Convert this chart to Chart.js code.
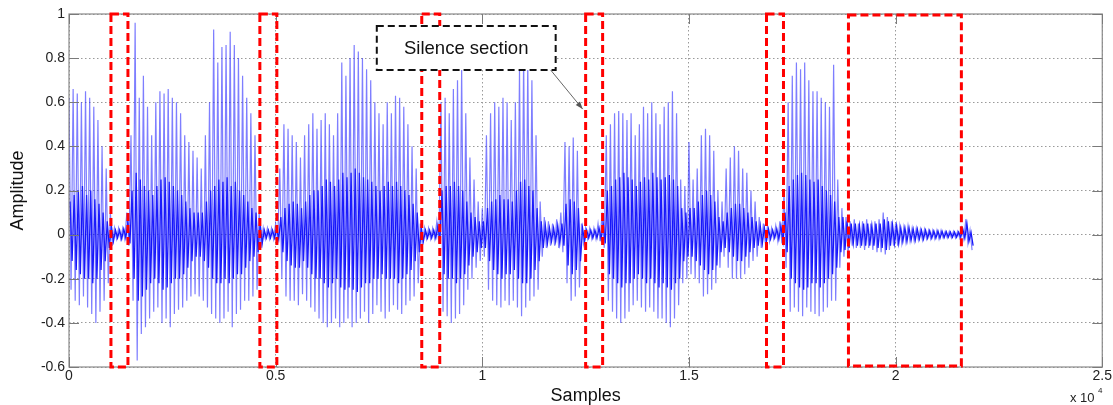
<!DOCTYPE html>
<html><head><meta charset="utf-8">
<script src="https://cdn.jsdelivr.net/npm/chart.js@4.4.1/dist/chart.umd.min.js"></script>
<style>html,body{margin:0;padding:0;background:#fff;overflow:hidden}#wrap{width:1113px;height:405px}</style>
</head><body><div id="wrap"><canvas id="c" width="1113" height="405"></canvas></div>
<script>
// ---------- data ----------
const sampleStep = 100; // one envelope value per 100 samples

// outer (peak) envelope of the waveform
const peakHigh = [
 0.62,0.66,0.64,0.60,0.65,0.62,0.58,0.52,0.40,0.30,
 0.10,0.03,0.03,0.03,0.10,
 0.45,0.96,0.62,0.72,0.58,0.45,0.60,0.65,0.64,0.66,0.62,0.60,0.55,0.45,0.42,0.38,0.35,0.30,0.45,0.60,0.93,0.78,0.85,0.86,0.92,0.86,0.80,0.72,0.62,0.55,0.45,
 0.10,0.03,0.03,0.03,0.05,
 0.30,0.50,0.48,0.45,0.42,0.35,0.45,0.50,0.55,0.48,0.52,0.55,0.50,0.45,0.55,0.78,0.72,0.80,0.86,0.83,0.80,0.75,0.70,0.60,0.55,0.50,0.60,0.55,0.63,0.62,0.58,0.50,0.40,0.30,
 0.05,0.03,0.03,0.03,0.06,
 0.60,0.62,0.55,0.66,0.70,0.75,0.55,0.35,0.25,0.15,0.12,0.45,0.55,0.60,0.58,0.62,0.60,0.52,0.60,0.75,0.80,0.78,0.70,0.45,0.15,0.08,0.06,0.05,0.07,0.10,0.42,0.40,0.44,0.38,
 0.05,0.03,0.03,0.03,0.05,
 0.10,0.45,0.50,0.55,0.56,0.55,0.52,0.55,0.45,0.50,0.58,0.55,0.60,0.55,0.50,0.58,0.60,0.65,0.55,0.25,0.22,0.42,0.25,0.30,0.45,0.48,0.45,0.38,0.20,0.15,0.30,0.35,0.40,0.38,0.30,0.28,0.20,0.15,0.08,
 0.05,0.04,0.03,0.04,0.06,
 0.20,0.60,0.72,0.78,0.75,0.78,0.70,0.65,0.65,0.62,0.60,0.58,0.77,0.25,
 0.12,0.08,0.06,0.07,0.05,0.06,0.07,0.05,0.06,0.07,0.10,0.08,0.06,0.05,0.04,0.035,0.04,0.03,0.03,0.025,0.025,0.02,0.02,0.02,0.02,0.015,0.015,0.015,0.015,0.03,0.07,0.02
];
const peakLow = [
 -0.25,-0.30,-0.32,-0.28,-0.33,-0.36,-0.40,-0.35,-0.30,-0.22,
 -0.05,-0.02,-0.02,-0.02,-0.05,
 -0.30,-0.57,-0.45,-0.42,-0.38,-0.35,-0.33,-0.40,-0.38,-0.42,-0.36,-0.34,-0.33,-0.30,-0.28,-0.27,-0.28,-0.30,-0.33,-0.36,-0.38,-0.40,-0.38,-0.35,-0.42,-0.36,-0.34,-0.30,-0.30,-0.28,-0.25,
 -0.06,-0.02,-0.02,-0.02,-0.03,
 -0.20,-0.28,-0.30,-0.30,-0.32,-0.27,-0.30,-0.33,-0.35,-0.38,-0.40,-0.42,-0.40,-0.38,-0.42,-0.40,-0.38,-0.42,-0.40,-0.38,-0.35,-0.40,-0.36,-0.32,-0.35,-0.38,-0.35,-0.32,-0.34,-0.36,-0.32,-0.30,-0.28,-0.22,
 -0.05,-0.02,-0.02,-0.02,-0.04,
 -0.35,-0.37,-0.40,-0.38,-0.36,-0.32,-0.25,-0.20,-0.15,-0.12,-0.10,-0.25,-0.30,-0.32,-0.33,-0.30,-0.32,-0.30,-0.33,-0.37,-0.33,-0.30,-0.28,-0.25,-0.10,-0.06,-0.05,-0.05,-0.06,-0.08,-0.22,-0.30,-0.28,-0.24,
 -0.04,-0.02,-0.02,-0.02,-0.03,
 -0.06,-0.30,-0.35,-0.38,-0.40,-0.38,-0.35,-0.32,-0.30,-0.33,-0.35,-0.33,-0.35,-0.38,-0.38,-0.40,-0.42,-0.38,-0.32,-0.22,-0.20,-0.18,-0.20,-0.22,-0.28,-0.27,-0.25,-0.22,-0.15,-0.10,-0.15,-0.20,-0.20,-0.20,-0.18,-0.15,-0.12,-0.10,-0.06,
 -0.04,-0.03,-0.02,-0.03,-0.04,
 -0.15,-0.35,-0.33,-0.35,-0.37,-0.33,-0.35,-0.36,-0.37,-0.35,-0.33,-0.30,-0.30,-0.15,
 -0.10,-0.08,-0.05,-0.06,-0.06,-0.07,-0.06,-0.07,-0.08,-0.08,-0.09,-0.07,-0.05,-0.05,-0.04,-0.035,-0.03,-0.03,-0.025,-0.025,-0.02,-0.02,-0.02,-0.02,-0.015,-0.015,-0.015,-0.015,-0.015,-0.02,-0.04,-0.07
];
// dense dark core of the waveform
const coreHigh = [
 0.15,0.18,0.20,0.22,0.18,0.20,0.16,0.14,0.10,0.06,
 0.04,0.02,0.02,0.025,0.06,
 0.20,0.28,0.25,0.22,0.20,0.18,0.22,0.25,0.26,0.24,0.22,0.20,0.18,0.15,0.12,0.10,0.10,0.10,0.15,0.20,0.22,0.25,0.24,0.26,0.22,0.24,0.20,0.18,0.15,0.12,0.10,
 0.05,0.02,0.02,0.02,0.03,
 0.08,0.12,0.14,0.15,0.14,0.12,0.15,0.18,0.20,0.20,0.22,0.25,0.24,0.22,0.25,0.28,0.26,0.28,0.30,0.28,0.26,0.25,0.24,0.22,0.20,0.22,0.24,0.22,0.24,0.22,0.20,0.18,0.14,0.10,
 0.03,0.02,0.02,0.02,0.04,
 0.20,0.22,0.22,0.24,0.22,0.20,0.15,0.10,0.08,0.06,0.06,0.12,0.15,0.16,0.18,0.16,0.16,0.15,0.20,0.24,0.25,0.22,0.20,0.12,0.06,0.04,0.03,0.03,0.04,0.05,0.14,0.16,0.15,0.12,
 0.03,0.02,0.02,0.02,0.03,
 0.05,0.20,0.22,0.25,0.26,0.28,0.26,0.25,0.22,0.24,0.26,0.25,0.28,0.26,0.25,0.26,0.27,0.25,0.22,0.12,0.10,0.12,0.12,0.15,0.18,0.20,0.18,0.15,0.08,0.06,0.10,0.12,0.14,0.14,0.12,0.10,0.08,0.06,0.04,
 0.03,0.025,0.02,0.025,0.04,
 0.10,0.22,0.25,0.27,0.28,0.27,0.25,0.24,0.25,0.22,0.20,0.18,0.15,0.08,
 0.08,0.06,0.05,0.05,0.04,0.05,0.05,0.04,0.05,0.05,0.07,0.06,0.045,0.04,0.03,0.03,0.03,0.025,0.025,0.02,0.02,0.018,0.016,0.016,0.015,0.013,0.012,0.012,0.012,0.025,0.05,0.01
];
const coreLow = [
 -0.12,-0.16,-0.18,-0.20,-0.20,-0.22,-0.20,-0.16,-0.12,-0.06,
 -0.03,-0.015,-0.02,-0.015,-0.04,
 -0.20,-0.30,-0.28,-0.25,-0.22,-0.20,-0.22,-0.25,-0.24,-0.22,-0.20,-0.20,-0.18,-0.15,-0.12,-0.10,-0.10,-0.12,-0.15,-0.20,-0.22,-0.22,-0.20,-0.22,-0.20,-0.18,-0.18,-0.15,-0.12,-0.10,-0.08,
 -0.04,-0.015,-0.015,-0.015,-0.02,
 -0.08,-0.12,-0.14,-0.15,-0.15,-0.12,-0.15,-0.18,-0.20,-0.20,-0.22,-0.24,-0.22,-0.20,-0.24,-0.25,-0.24,-0.25,-0.26,-0.24,-0.22,-0.22,-0.20,-0.20,-0.18,-0.20,-0.20,-0.20,-0.22,-0.20,-0.18,-0.16,-0.12,-0.08,
 -0.03,-0.015,-0.015,-0.015,-0.03,
 -0.18,-0.20,-0.20,-0.22,-0.20,-0.18,-0.14,-0.10,-0.08,-0.06,-0.06,-0.12,-0.16,-0.18,-0.20,-0.18,-0.18,-0.16,-0.20,-0.22,-0.22,-0.20,-0.16,-0.12,-0.06,-0.04,-0.03,-0.03,-0.04,-0.05,-0.14,-0.18,-0.16,-0.12,
 -0.03,-0.015,-0.015,-0.015,-0.02,
 -0.04,-0.18,-0.20,-0.22,-0.24,-0.22,-0.22,-0.20,-0.18,-0.20,-0.22,-0.20,-0.22,-0.24,-0.22,-0.24,-0.25,-0.22,-0.20,-0.12,-0.10,-0.10,-0.12,-0.14,-0.16,-0.18,-0.16,-0.14,-0.08,-0.06,-0.08,-0.10,-0.12,-0.12,-0.10,-0.08,-0.06,-0.05,-0.04,
 -0.03,-0.02,-0.015,-0.02,-0.03,
 -0.08,-0.20,-0.22,-0.24,-0.25,-0.24,-0.22,-0.22,-0.24,-0.22,-0.20,-0.18,-0.15,-0.08,
 -0.07,-0.06,-0.04,-0.05,-0.05,-0.05,-0.05,-0.05,-0.06,-0.06,-0.07,-0.05,-0.04,-0.04,-0.03,-0.03,-0.025,-0.025,-0.02,-0.02,-0.016,-0.016,-0.015,-0.015,-0.013,-0.012,-0.012,-0.012,-0.012,-0.015,-0.03,-0.05
];

// silence sections (sample index ranges, amplitude ranges)
const silenceStart = [1015, 4618, 8535, 12500, 16876, 18859];
const silenceEnd   = [1426, 5029, 8970, 12911, 17287, 21591];
const silenceTop    = [1, 1, 1, 1, 1, 0.995];
const silenceBottom = [-0.6, -0.6, -0.6, -0.6, -0.6, -0.595];

// axis ticks
const xTickValues = [0, 5000, 10000, 15000, 20000, 25000];
const xTickLabels = ['0', '0.5', '1', '1.5', '2', '2.5'];
const yTickValues = [1, 0.8, 0.6, 0.4, 0.2, 0, -0.2, -0.4, -0.6];
const yTickLabels = ['1', '0.8', '0.6', '0.4', '0.2', '0', '-0.2', '-0.4', '-0.6'];

// annotation
const noteText = 'Silence section';
const noteBox = {x0: 7447, x1: 11775, y0: 0.9456, y1: 0.746};
const noteArrow = {x0: 11654, y0: 0.746, x1: 12428, y1: 0.569};
const xAxisTitle = 'Samples';
const yAxisTitle = 'Amplitude';
const xExponent = ['x 10', '4'];

// ---------- build datasets ----------
const outerPts = [], corePts = [];
for (let i = 0; i < peakHigh.length; i++) {
  const s = i * sampleStep;
  outerPts.push({x: s, y: peakHigh[i]}, {x: s + sampleStep / 2, y: peakLow[i]});
  corePts.push({x: s + sampleStep / 4, y: coreHigh[i]}, {x: s + 3 * sampleStep / 4, y: coreLow[i]});
}

const FONT = '"Liberation Sans", Arial, Helvetica, sans-serif';

const deco = {
  id: 'deco',
  afterDatasetsDraw(chart) {
    const {ctx, chartArea: a, scales: {x, y}} = chart;
    ctx.save();
    // frame
    ctx.setLineDash([]);
    ctx.strokeStyle = '#8a8a8a';
    ctx.lineWidth = 1.2;
    ctx.strokeRect(a.left, a.top, a.right - a.left, a.bottom - a.top);
    // inward ticks
    ctx.strokeStyle = '#7a7a7a';
    ctx.lineWidth = 1;
    const tl = 10;
    ctx.beginPath();
    xTickValues.forEach(v => {
      const px = Math.round(x.getPixelForValue(v)) + 0.5;
      ctx.moveTo(px, a.bottom); ctx.lineTo(px, a.bottom - tl);
      ctx.moveTo(px, a.top); ctx.lineTo(px, a.top + tl);
    });
    yTickValues.forEach(v => {
      const py = Math.round(y.getPixelForValue(v)) + 0.5;
      ctx.moveTo(a.left, py); ctx.lineTo(a.left + tl, py);
      ctx.moveTo(a.right, py); ctx.lineTo(a.right - tl, py);
    });
    ctx.stroke();
    // silence rectangles
    ctx.strokeStyle = '#ff0000';
    ctx.lineWidth = 3;
    ctx.setLineDash([8, 4]);
    for (let k = 0; k < silenceStart.length; k++) {
      const x0 = x.getPixelForValue(silenceStart[k]);
      const x1 = x.getPixelForValue(silenceEnd[k]);
      const y0 = y.getPixelForValue(silenceTop[k]);
      const y1 = y.getPixelForValue(silenceBottom[k]);
      ctx.strokeRect(x0, y0, x1 - x0, y1 - y0);
    }
    // arrow
    const ax0 = x.getPixelForValue(noteArrow.x0), ay0 = y.getPixelForValue(noteArrow.y0);
    const ax1 = x.getPixelForValue(noteArrow.x1), ay1 = y.getPixelForValue(noteArrow.y1);
    ctx.setLineDash([]);
    ctx.strokeStyle = '#555';
    ctx.fillStyle = '#555';
    ctx.lineWidth = 0.9;
    ctx.beginPath(); ctx.moveTo(ax0, ay0); ctx.lineTo(ax1, ay1); ctx.stroke();
    const ang = Math.atan2(ay1 - ay0, ax1 - ax0);
    const hl = 8, hw = 0.35;
    ctx.beginPath();
    ctx.moveTo(ax1, ay1);
    ctx.lineTo(ax1 - hl * Math.cos(ang - hw), ay1 - hl * Math.sin(ang - hw));
    ctx.lineTo(ax1 - hl * Math.cos(ang + hw), ay1 - hl * Math.sin(ang + hw));
    ctx.closePath(); ctx.fill();
    // annotation box
    const bx0 = x.getPixelForValue(noteBox.x0), bx1 = x.getPixelForValue(noteBox.x1);
    const by0 = y.getPixelForValue(noteBox.y0), by1 = y.getPixelForValue(noteBox.y1);
    ctx.fillStyle = '#fff';
    ctx.fillRect(bx0, by0, bx1 - bx0, by1 - by0);
    ctx.strokeStyle = '#111';
    ctx.lineWidth = 2;
    ctx.setLineDash([7, 4]);
    ctx.strokeRect(bx0, by0, bx1 - bx0, by1 - by0);
    ctx.fillStyle = '#111';
    ctx.font = '18.5px ' + FONT;
    ctx.textAlign = 'center';
    ctx.textBaseline = 'middle';
    ctx.fillText(noteText, (bx0 + bx1) / 2, (by0 + by1) / 2 + 1);
    // exponent label
    ctx.textAlign = 'left';
    ctx.textBaseline = 'alphabetic';
    ctx.font = '13px ' + FONT;
    ctx.fillStyle = '#222';
    ctx.fillText(xExponent[0], 1070, 402);
    ctx.font = '8px ' + FONT;
    ctx.fillText(xExponent[1], 1098, 393);
    ctx.restore();
  }
};

new Chart(document.getElementById('c'), {
  type: 'scatter',
  data: {
    datasets: [
      {label: 'waveform', data: outerPts, showLine: true, borderColor: 'rgba(40,40,255,0.6)', borderWidth: 1.2, pointRadius: 0, tension: 0},
      {label: 'waveform core', data: corePts, showLine: true, borderColor: 'rgba(0,0,250,0.92)', borderWidth: 1.3, pointRadius: 0, tension: 0}
    ]
  },
  options: {
    responsive: false,
    animation: false,
    devicePixelRatio: 1,
    layout: {padding: {left: 0, right: 10, top: 14, bottom: 0}},
    plugins: {legend: {display: false}, tooltip: {enabled: false}},
    scales: {
      x: {
        type: 'linear', min: 0, max: 25000,
        afterBuildTicks: s => { s.ticks = xTickValues.map(v => ({value: v})); },
        afterFit: s => { s.height = 38; },
        ticks: {
          padding: 1, color: '#222', font: {family: FONT, size: 14}, maxRotation: 0,
          callback: v => xTickLabels[xTickValues.indexOf(v)]
        },
        grid: {color: '#9a9a9a', lineWidth: 1, drawTicks: false},
        border: {display: false, dash: [1.5, 2.5]},
        title: {display: true, text: xAxisTitle, color: '#111', font: {family: FONT, size: 18, lineHeight: 1}, padding: {top: 0, bottom: 0}}
      },
      y: {
        type: 'linear', min: -0.6, max: 1,
        afterBuildTicks: s => { s.ticks = yTickValues.map(v => ({value: v})); },
        afterFit: s => { s.width = 69; },
        ticks: {
          padding: 4, color: '#222', font: {family: FONT, size: 14},
          callback: v => {
            let best = 0;
            yTickValues.forEach((t, i) => { if (Math.abs(t - v) < Math.abs(yTickValues[best] - v)) best = i; });
            return yTickLabels[best];
          }
        },
        grid: {color: '#9a9a9a', lineWidth: 1, drawTicks: false},
        border: {display: false, dash: [1.5, 2.5]},
        title: {display: true, text: yAxisTitle, color: '#111', font: {family: FONT, size: 18, lineHeight: 1}, padding: {top: 9.5, bottom: 0}}
      }
    }
  },
  plugins: [deco]
});
</script>
</body></html>
